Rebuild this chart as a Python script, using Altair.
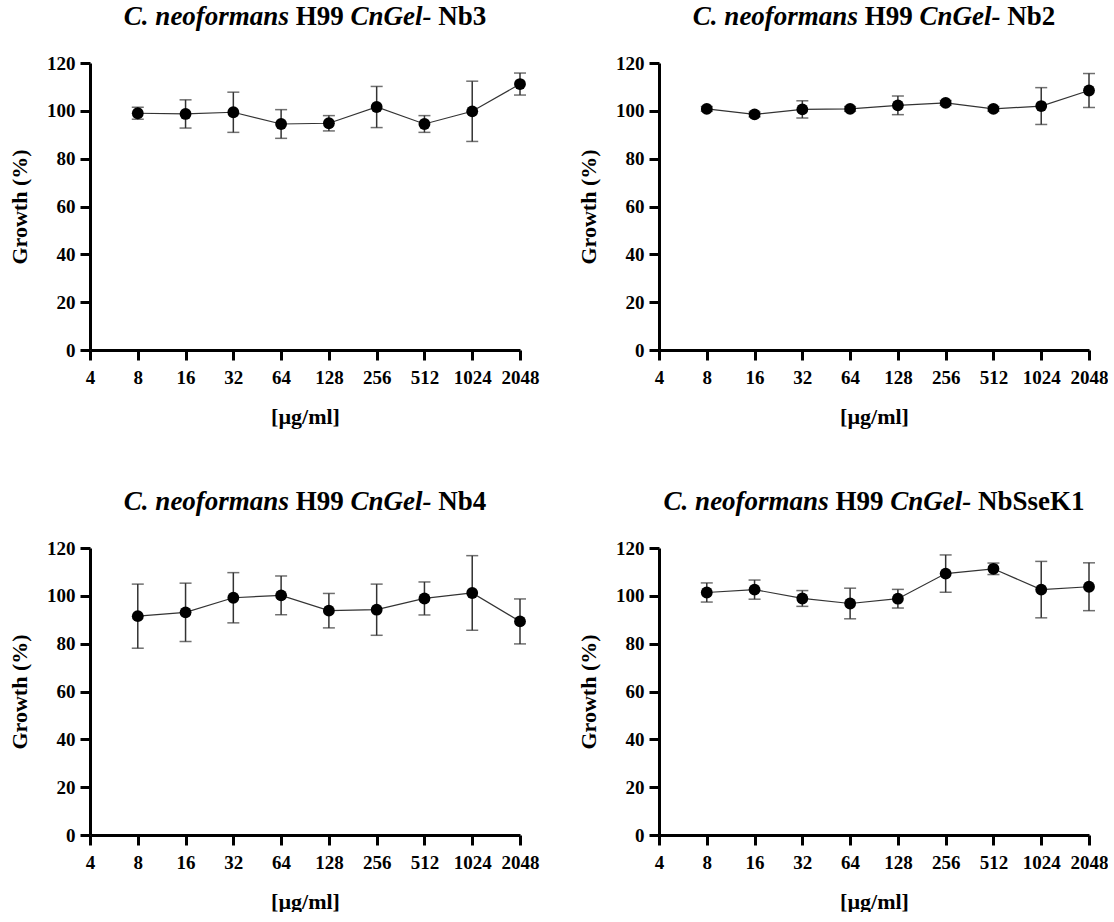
import altair as alt
import pandas as pd

# ---------------- data ----------------
conc = [8, 16, 32, 64, 128, 256, 512, 1024, 2048]
x_ticks = [4, 8, 16, 32, 64, 128, 256, 512, 1024, 2048]
y_ticks = [0, 20, 40, 60, 80, 100, 120]

nb3_mean = [99.0, 98.7, 99.4, 94.5, 94.8, 101.6, 94.5, 99.8, 111.2]
nb3_err = [2.5, 5.9, 8.4, 6.0, 3.2, 8.6, 3.5, 12.6, 4.6]

nb2_mean = [100.8, 98.5, 100.6, 100.8, 102.3, 103.3, 100.8, 102.0, 108.5]
nb2_err = [1.0, 1.0, 3.6, 1.0, 3.9, 1.0, 1.0, 7.7, 7.1]

nb4_mean = [91.5, 93.1, 99.2, 100.2, 93.8, 94.2, 98.9, 101.2, 89.3]
nb4_err = [13.4, 12.2, 10.5, 8.1, 7.2, 10.7, 6.9, 15.6, 9.4]

sse_mean = [101.4, 102.6, 98.9, 96.8, 98.8, 109.3, 111.3, 102.6, 103.8]
sse_err = [4.0, 4.0, 3.3, 6.4, 3.9, 7.8, 2.4, 11.8, 10.0]

names = ["Nb3", "Nb2", "Nb4", "NbSseK1"]
x_title = "[µg/ml]"
y_title = "Growth (%)"

# ---------------- styling ----------------
FONT = "Liberation Serif"
W, H = 430, 287
TITLE_SIZE = 27
TITLE_Y = -46

# Times/Liberation Serif advance widths (1/1000 em) for the title text
BI = {'C': 667, '.': 250, ' ': 250, 'n': 556, 'e': 444, 'o': 500, 'f': 333,
      'r': 389, 'm': 778, 'a': 500, 's': 389, 'G': 722, 'l': 278, '-': 333}
BR = {'H': 778, '9': 500, 'N': 722, 'b': 556, '3': 500, '2': 500, '4': 500,
      'S': 556, 's': 389, 'e': 444, 'K': 778, '1': 500, ' ': 250}


def text_width(s, italic):
    tbl = BI if italic else BR
    return sum(tbl.get(c, 500) for c in s) / 1000.0 * TITLE_SIZE


def title_layers(name):
    pieces = [("C. neoformans", True), ("H99", False), ("CnGel-", True), (name, False)]
    gap = 250 / 1000.0 * TITLE_SIZE
    widths = [text_width(t, it) for t, it in pieces]
    total = sum(widths) + gap * (len(pieces) - 1)
    x = W / 2 - total / 2
    layers = []
    for (t, it), w in zip(pieces, widths):
        layers.append(
            alt.Chart(pd.DataFrame({"t": [t]}))
            .mark_text(font=FONT, fontSize=TITLE_SIZE, fontWeight="bold",
                       fontStyle="italic" if it else "normal",
                       align="left", baseline="middle", color="black")
            .encode(text="t:N", x=alt.value(x), y=alt.value(TITLE_Y))
        )
        x += w + gap
    return layers


def panel(mean, err, name):
    df = pd.DataFrame({
        "conc": conc,
        "mean": mean,
        "lo": [m - e for m, e in zip(mean, err)],
        "hi": [m + e for m, e in zip(mean, err)],
    })
    base = alt.Chart(df)
    xenc = alt.X("conc:Q",
                 scale=alt.Scale(type="log", base=2, domain=[4, 2048], nice=False),
                 axis=alt.Axis(values=x_ticks, format="d", title=x_title,
                               labelOverlap=False, labelFlush=False, labelBound=False,
                               labelPadding=8, titleY=66, titleBaseline="middle"))
    yenc = alt.Y("mean:Q",
                 scale=alt.Scale(domain=[0, 120], nice=False, zero=True),
                 axis=alt.Axis(values=y_ticks, title=y_title, labelPadding=5,
                               titleX=-71, titleY=H / 2, titleAngle=-90,
                               titleBaseline="middle", titleAlign="center"))
    line = base.mark_line(color="#333333", strokeWidth=1.2).encode(x=xenc, y=yenc)
    bars = base.mark_rule(color="#333333", strokeWidth=1.5).encode(
        x="conc:Q", y="lo:Q", y2="hi:Q")
    cap_hi = base.mark_tick(color="#333333", thickness=1.5, size=12,
                            orient="horizontal").encode(x="conc:Q", y="hi:Q")
    cap_lo = base.mark_tick(color="#333333", thickness=1.5, size=12,
                            orient="horizontal").encode(x="conc:Q", y="lo:Q")
    pts = base.mark_point(filled=True, shape="circle", size=140, color="black",
                          opacity=1).encode(x="conc:Q", y="mean:Q")
    return alt.layer(line, bars, cap_hi, cap_lo, pts, *title_layers(name)).properties(
        width=W, height=H)


p1 = panel(nb3_mean, nb3_err, names[0])
p2 = panel(nb2_mean, nb2_err, names[1])
p3 = panel(nb4_mean, nb4_err, names[2])
p4 = panel(sse_mean, sse_err, names[3])

chart = (
    alt.concat(p1, p2, p3, p4, columns=2,
               spacing={"row": 198, "column": 139}, bounds="flush")
    .properties(padding={"left": 8, "top": 3, "right": 0, "bottom": 0},
                background="white")
    .configure_view(stroke=None)
    .configure_axis(
        grid=False,
        domainColor="black", domainWidth=3,
        tickColor="black", tickWidth=3, tickSize=10,
        labelFont=FONT, labelFontSize=19, labelFontWeight="bold", labelColor="black",
        titleFont=FONT, titleFontSize=22, titleFontWeight="bold", titleColor="black",
    )
)

chart.save("out.html", embed_options={"renderer": "svg", "actions": False})
